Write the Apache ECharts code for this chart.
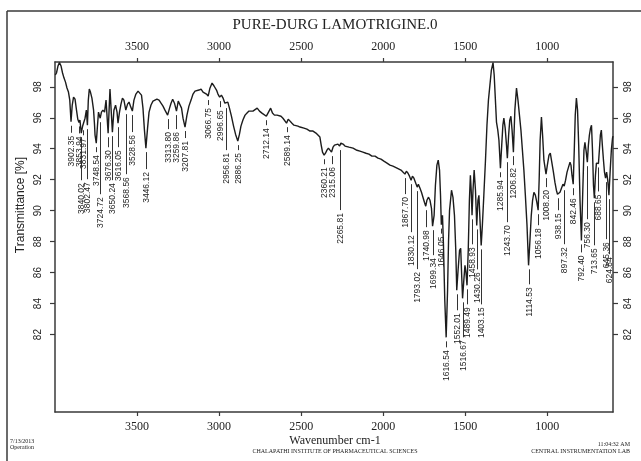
<!DOCTYPE html>
<html>
<head>
<meta charset="utf-8">
<script src="https://cdn.jsdelivr.net/npm/echarts@6/dist/echarts.min.js"></script>
<style>
html, body { margin: 0; padding: 0; background: #fff; }
#chart { width: 641px; height: 461px; }
</style>
</head>
<body>
<div id="chart"></div>
<script>
// FT-IR spectrum, wavenumber (cm-1) vs transmittance (%)
const wavenumbers = [
  3998, 3991, 3982, 3973, 3963, 3954, 3945, 3936, 3927, 3918, 3910, 3902.35, 3895, 3887, 3878, 3869,
  3861, 3853.94, 3848, 3840.02, 3831.97, 3825, 3817, 3809, 3802.47, 3797, 3791, 3784, 3775, 3765, 3759,
  3756, 3748.54, 3741, 3735, 3730, 3724.72, 3717, 3708, 3698, 3689, 3676.30, 3665, 3650.24, 3641, 3631,
  3622, 3616.05, 3607, 3598, 3589, 3580, 3568.56, 3558, 3549, 3540, 3528.56, 3519, 3507, 3494, 3482,
  3473, 3464, 3455, 3446.12, 3436, 3427, 3415, 3403, 3391, 3379, 3366, 3354, 3342, 3330, 3313.80, 3302,
  3293, 3283, 3272, 3259.86, 3249, 3238, 3229, 3220, 3207.81, 3196, 3184, 3171, 3159, 3147, 3135, 3123,
  3110, 3098, 3086, 3077, 3066.75, 3056, 3043, 3031, 3016, 3007, 2996.65, 2986, 2976, 2965, 2956.81,
  2947, 2937, 2925, 2912, 2900, 2886.25, 2876, 2867, 2855, 2842, 2830, 2818, 2806, 2794, 2782, 2768,
  2754, 2739, 2727, 2712.14, 2699, 2686, 2675, 2663, 2647, 2635, 2623, 2611, 2600, 2589.14, 2579, 2568,
  2556, 2544, 2532, 2520, 2507, 2495, 2483, 2465, 2446, 2428, 2410, 2398, 2386, 2378, 2370, 2360.21,
  2352, 2343, 2334, 2325, 2315.06, 2306, 2297, 2285, 2276, 2265.81, 2258, 2245, 2233, 2221, 2209, 2197,
  2184, 2172, 2160, 2142, 2124, 2105, 2087, 2069, 2050, 2032, 2014, 1996, 1977, 1959, 1941, 1929, 1916,
  1904, 1892, 1880, 1867.70, 1859, 1849, 1840, 1830.12, 1822, 1813, 1804, 1793.02, 1786, 1776, 1767,
  1758, 1749, 1740.98, 1734, 1724, 1715, 1706, 1699.34, 1690, 1682, 1673, 1665, 1657, 1651, 1646.05,
  1639, 1633, 1625, 1616.54, 1608, 1602, 1596, 1584, 1575, 1566, 1558, 1552.01, 1544, 1535, 1528, 1522,
  1516.67, 1509, 1502, 1496, 1489.49, 1482, 1475, 1469, 1464, 1458.93, 1453, 1446, 1438, 1430.26, 1423,
  1417, 1409, 1403.15, 1396, 1387, 1377, 1368, 1359, 1350, 1341, 1331, 1324, 1318, 1310, 1302, 1295,
  1285.94, 1278, 1271, 1265, 1257, 1249, 1243.70, 1236, 1229, 1222, 1215, 1206.82, 1198, 1188, 1179,
  1170, 1161, 1152, 1143, 1134, 1124, 1114.53, 1106, 1098, 1090, 1082, 1073, 1064, 1056.18, 1050, 1044,
  1036, 1029, 1021, 1008.20, 1000, 990, 982, 973, 963, 954, 945, 938.15, 931, 923, 914, 905, 897.32, 889,
  880, 871, 862, 856, 850, 842.46, 836, 830, 823, 816, 809, 801, 792.40, 784, 777, 771, 763, 756.30, 750,
  744, 737, 731, 725, 719, 713.65, 707, 701, 695, 688.65, 683, 677, 671, 665, 658, 652, 645.36, 639, 632,
  624.84, 617, 610, 603, 600
];
const transmittance = [
  98.76, 98.89, 99.34, 99.56, 99.34, 98.89, 98.56, 98.30, 97.92, 97.66, 97.14, 95.74, 96.82, 97.33, 97.20, 96.49,
  95.90, 95.70, 95.85, 95.00, 95.45, 95.55, 95.97, 96.49, 95.52, 97.14, 97.85, 97.66, 97.27, 96.49, 95.52,
  94.88, 94.36, 95.52, 96.36, 96.36, 95.97, 96.36, 96.49, 96.36, 97.14, 95.00, 97.85, 95.07, 96.49, 96.81,
  96.36, 95.65, 96.36, 96.88, 97.27, 97.14, 96.49, 96.88, 97.01, 96.75, 96.43, 97.14, 97.53, 97.72, 97.79,
  97.46, 96.62, 95.20, 94.04, 95.33, 96.36, 96.82, 97.07, 97.14, 97.20, 97.14, 96.94, 96.75, 96.49, 96.17, 96.62,
  96.94, 97.20, 96.94, 96.43, 97.08, 97.08, 96.62, 95.97, 95.40, 96.17, 96.75, 97.14, 97.53, 97.72, 97.79, 97.79,
  97.85, 97.66, 97.60, 97.53, 97.40, 97.91, 98.24, 98.05, 97.79, 97.53, 97.33, 97.46, 97.27, 96.94, 96.88,
  97.01, 96.62, 96.10, 95.46, 94.94, 94.49, 94.94, 95.46, 95.85, 96.17, 96.30, 96.43, 96.49, 96.43, 96.49, 96.62,
  96.43, 96.30, 96.30, 96.10, 96.36, 96.62, 96.30, 96.17, 96.17, 96.10, 96.10, 95.97, 95.85, 95.65, 95.91, 95.85,
  95.65, 95.52, 95.59, 95.46, 95.40, 95.46, 95.33, 95.26, 95.14, 95.14, 95.01, 94.94, 94.75, 94.23, 93.78, 93.58,
  93.71, 93.91, 94.04, 93.97, 93.78, 94.10, 94.23, 94.17, 94.30, 94.17, 94.36, 94.30, 94.17, 94.17, 94.10, 94.04,
  94.04, 93.97, 93.90, 93.84, 93.78, 93.71, 93.65, 93.52, 93.52, 93.39, 93.33, 93.20, 93.07, 92.94, 92.88, 92.81, 92.75,
  92.68, 92.62, 92.49, 92.36, 92.55, 92.42, 92.23, 91.97, 92.23, 92.10, 91.84, 91.52, 91.71, 91.45, 91.19,
  90.87, 90.54, 90.29, 90.67, 90.87, 90.67, 90.15, 89.00, 89.70, 91.64, 92.94, 93.26, 92.62, 91.00, 89.10,
  89.70, 87.76, 84.21, 81.82, 84.86, 88.08, 90.02, 91.32, 90.86, 89.70, 87.44, 84.86, 86.15, 87.44, 87.57, 85.82,
  84.34, 85.50, 86.47, 86.02, 85.18, 87.44, 90.67, 92.29, 91.32, 89.70, 91.32, 92.62, 91.32, 89.05, 90.67,
  90.99, 89.05, 87.76, 89.05, 91.00, 93.26, 95.52, 97.14, 98.11, 99.08, 99.56, 98.76, 97.46, 95.72, 95.20, 94.55,
  92.74, 94.23, 95.52, 95.97, 95.33, 94.23, 93.39, 94.87, 95.85, 96.10, 95.20, 93.78, 96.49, 97.91, 97.14,
  96.17, 95.20, 93.91, 92.62, 91.00, 89.05, 86.47, 88.08, 89.70, 90.67, 91.19, 91.00, 90.54, 90.03, 91.97, 94.55,
  96.04, 94.87, 93.26, 92.36, 92.94, 93.58, 93.71, 93.13, 92.49, 91.84, 91.32, 91.06, 91.06, 91.19, 91.45, 91.71, 91.58, 91.97,
  92.49, 92.81, 93.13, 92.94, 92.29, 91.71, 93.91, 96.17, 97.27, 96.49, 94.23, 90.67, 88.08, 91.32, 93.91, 94.42, 93.78, 93.13, 94.23,
  94.87, 95.33, 95.52, 93.91, 91.64, 90.80, 92.29, 93.07, 93.13, 93.05, 93.91, 94.87, 95.20, 94.23, 93.26, 92.49, 92.10, 92.49, 91.97,
  91.00, 92.62, 93.91, 94.68, 94.81
];

// picked band positions (cm-1)
const peakLabels = [
  "3902.35", "3853.94", "3840.02", "3831.97", "3802.47", "3748.54", "3724.72", "3676.30", "3650.24",
  "3616.05", "3568.56", "3528.56", "3446.12", "3313.80", "3259.86", "3207.81", "3066.75", "2996.65",
  "2956.81", "2886.25", "2712.14", "2589.14", "2360.21", "2315.06", "2265.81", "1867.70", "1830.12",
  "1793.02", "1740.98", "1699.34", "1646.05", "1616.54", "1552.01", "1516.67", "1489.49", "1458.93",
  "1430.26", "1403.15", "1285.94", "1243.70", "1206.82", "1114.53", "1056.18", "1008.20", "938.15",
  "897.32", "842.46", "792.40", "756.30", "713.65", "688.65", "645.36", "624.84"
];

const xTickValues = [1000, 1500, 2000, 2500, 3000, 3500];
const yTickValues = [82, 84, 86, 88, 90, 92, 94, 96, 98];

// leader length (px) below each band before its label starts
const labelDrop = [
  14, 14, 50, 12, 57, 12, 79, 17, 51,
  27, 67, 24, 24, 17, 21, 14, 12, 13,
  49, 12, 12, 12, 12, 15, 67, 23, 55,
  85, 24, 32, 12, 13, 23, 42, 22, 32,
  47, 62, 12, 67, 16, 22, 18, 16, 19,
  61, 14, 15, 60, 50, 31, 64, 62
];

const spectrum = wavenumbers.map((w, i) => [w, transmittance[i]]);

function transmittanceAt(w) {
  for (let i = 0; i < wavenumbers.length - 1; i++) {
    const a = wavenumbers[i], b = wavenumbers[i + 1];
    if (w <= a && w >= b) {
      const t = (a - w) / (a - b);
      return transmittance[i] + t * (transmittance[i + 1] - transmittance[i]);
    }
  }
  return transmittance[transmittance.length - 1];
}

const peaks = peakLabels.map((s, i) => {
  const w = parseFloat(s);
  return [w, transmittanceAt(w), i];
});

const INK = '#222';
const AXIS = '#3a3a3a';
const narrow = '"Liberation Sans Narrow", "Arial Narrow", "Liberation Sans", sans-serif';
const serif = '"Liberation Serif", "Times New Roman", serif';

function xAxisDef(position) {
  return {
    type: 'value', position: position, inverse: true, min: 600, max: 4000,
    axisLine: { show: true, onZero: false, lineStyle: { color: AXIS, width: 1.5 } },
    axisTick: { show: true, inside: false, length: 4, customValues: xTickValues, lineStyle: { color: AXIS, width: 1.2 } },
    axisLabel: { show: true, customValues: xTickValues, margin: 9, color: INK, fontFamily: serif, fontSize: 12,
      formatter: v => String(v) },
    splitLine: { show: false }
  };
}
function yAxisDef(position, margin) {
  return {
    type: 'value', position: position, min: 77, max: 99.6,
    axisLine: { show: true, onZero: false, lineStyle: { color: AXIS, width: 1.5 } },
    axisTick: { show: true, inside: false, length: 5, customValues: yTickValues, lineStyle: { color: AXIS, width: 1.2 } },
    axisLabel: { show: true, customValues: yTickValues, rotate: 90, margin: margin, color: INK, fontFamily: narrow, fontSize: 10,
      formatter: v => String(v) },
    splitLine: { show: false }
  };
}

const chart = echarts.init(document.getElementById('chart'), null, { renderer: 'canvas' });
chart.setOption({
  animation: false,
  backgroundColor: '#fff',
  grid: { left: 55, right: 28, top: 62, bottom: 49 },
  xAxis: [xAxisDef('bottom'), xAxisDef('top')],
  yAxis: [yAxisDef('left', 12), yAxisDef('right', 10)],
  graphic: [
    { type: 'line', shape: { x1: 7, y1: 11, x2: 641, y2: 11 }, style: { stroke: AXIS, lineWidth: 1.5 } },
    { type: 'line', shape: { x1: 7, y1: 11, x2: 7, y2: 461 }, style: { stroke: AXIS, lineWidth: 1.5 } },
    { type: 'text', x: 335, y: 25, style: { text: 'PURE-DURG LAMOTRIGINE.0', font: '15px ' + serif, fill: INK, align: 'center', verticalAlign: 'middle' } },
    { type: 'text', x: 21, y: 205, rotation: Math.PI / 2, style: { text: 'Transmittance [%]', font: '12px ' + narrow, fill: INK, align: 'center', verticalAlign: 'middle' } },
    { type: 'text', x: 335, y: 441, style: { text: 'Wavenumber cm-1', font: '12px ' + serif, fill: INK, align: 'center', verticalAlign: 'middle' } },
    { type: 'text', x: 335, y: 451, style: { text: 'CHALAPATHI INSTITUTE OF PHARMACEUTICAL SCIENCES', font: '6px ' + serif, fill: INK, align: 'center', verticalAlign: 'middle' } },
    { type: 'text', x: 10, y: 441, style: { text: '7/13/2013', font: '6px ' + serif, fill: INK, align: 'left', verticalAlign: 'middle' } },
    { type: 'text', x: 10, y: 447, style: { text: 'Operation', font: '6px ' + serif, fill: INK, align: 'left', verticalAlign: 'middle' } },
    { type: 'text', x: 630, y: 444, style: { text: '11:04:32 AM', font: '6px ' + serif, fill: INK, align: 'right', verticalAlign: 'middle' } },
    { type: 'text', x: 630, y: 451, style: { text: 'CENTRAL INSTRUMENTATION LAB', font: '6px ' + serif, fill: INK, align: 'right', verticalAlign: 'middle' } }
  ],
  series: [
    {
      type: 'line', xAxisIndex: 0, yAxisIndex: 0, data: spectrum,
      showSymbol: false, symbol: 'none', smooth: false,
      lineStyle: { color: '#1c1c1c', width: 1.4 }, z: 3
    },
    {
      type: 'custom', xAxisIndex: 0, yAxisIndex: 0, data: peaks, z: 2,
      renderItem: function (params, api) {
        const idx = api.value(2);
        const p = api.coord([api.value(0), api.value(1)]);
        const drop = labelDrop[idx];
        const x = Math.round(p[0]) + 0.5;
        const yTop = p[1] + 4, yEnd = p[1] + drop - 3, yText = p[1] + drop;
        return {
          type: 'group',
          children: [
            { type: 'line', shape: { x1: x, y1: yTop, x2: x, y2: yEnd }, style: { stroke: '#333', lineWidth: 1 } },
            { type: 'text', x: x, y: yText, rotation: Math.PI / 2,
              style: { text: peakLabels[idx], font: '8.5px ' + narrow, fill: INK, align: 'right', verticalAlign: 'middle' } }
          ]
        };
      }
    }
  ]
});
</script>
</body>
</html>
